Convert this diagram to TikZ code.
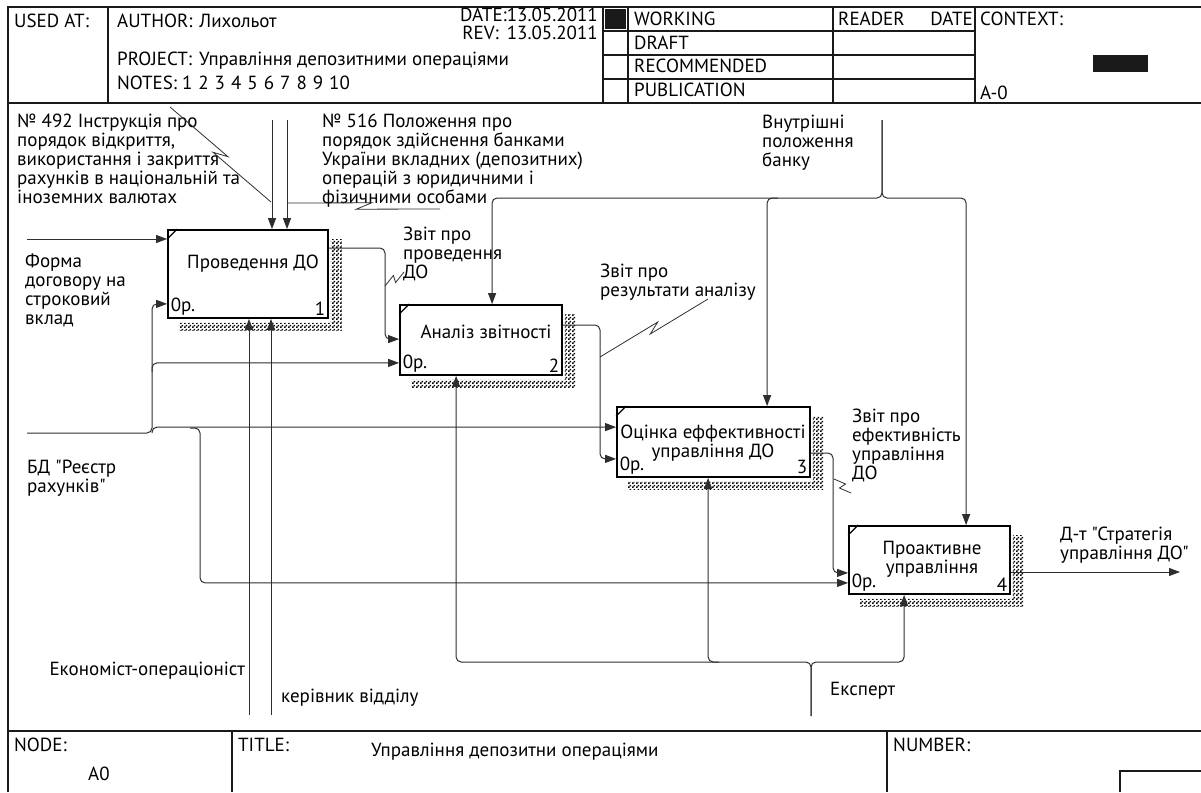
\documentclass[tikz,border=0pt]{standalone}
\usepackage{fontspec}
\setmainfont{PT Sans}[Ligatures=TeXOff]
\usetikzlibrary{positioning,arrows.meta,calc,patterns}
\definecolor{idefink}{HTML}{1A1A1A}
\definecolor{idefline}{HTML}{2E2E2E}

\pgfdeclarepatternformonly{shadowdots}{\pgfqpoint{0pt}{0pt}}{\pgfqpoint{4pt}{4pt}}{\pgfqpoint{4pt}{4pt}}{%
  \pgfpathrectangle{\pgfqpoint{0pt}{0pt}}{\pgfqpoint{2pt}{2pt}}%
  \pgfpathrectangle{\pgfqpoint{2pt}{2pt}}{\pgfqpoint{2pt}{2pt}}%
  \pgfusepath{fill}}

% dotted drop shadow and corner tick of an activity box
\newcommand{\boxshadow}[1]{%
  \fill[pattern=shadowdots, pattern color=black]
    ($(#1.north east)+(2,10)$) -- ($(#1.north east)+(13,10)$) --
    ($(#1.south east)+(13,12)$) -- ($(#1.south west)+(12,12)$) --
    ($(#1.south west)+(12,4)$) -- ($(#1.south east)+(2,4)$) -- cycle;
  \draw[line width=1.2pt] ($(#1.north west)+(0,10)$) -- ($(#1.north west)+(10,0)$);}
% squiggle from an arrow to its label
\newcommand{\zigline}[2]{%
  \draw[squig] (#1) -- ($(#1)!0.55!(#2)!3.5pt!90:(#2)$) -- ($(#1)!0.45!(#2)!3.5pt!-90:(#2)$) -- (#2);}

\begin{document}
\begin{tikzpicture}[x=1pt, y=-1pt,
  font=\fontsize{19}{19}\selectfont,
  act/.style={draw=black, line width=1.8pt, fill=white, inner sep=0pt},
  acttxt/.style={align=center, inner sep=0pt},
  idnum/.style={inner sep=3.5pt},
  lbl/.style={align=left, inner sep=0pt, anchor=north west},
  hdr/.style={inner sep=0pt, anchor=north west},
  arr/.style={-{Triangle[length=11pt,width=8pt]}, line width=1pt, draw=idefline},
  rc/.style={rounded corners=5pt},
  squig/.style={line width=0.8pt, draw=idefline},
  rule/.style={line width=1.1pt, draw=idefink},
  frame/.style={line width=2pt, draw=idefink}
]
\useasboundingbox (0,0) rectangle (1201,792);

% header and footer frame
\draw[frame] (8,792) -- (8,7) -- (1201,7);
\draw[rule] (8,103) -- (1201,103);
\foreach \x in {108,603,628,833,975} \draw[rule] (\x,7) -- (\x,103);
\foreach \y in {31,55,79} \draw[rule] (603,\y) -- (975,\y);
\fill[idefink] (605,9) rectangle (626,29);
\fill[idefink] (1093,55) rectangle (1148,72);
\draw[frame] (8,731) -- (1201,731);
\draw[rule] (232,731) -- (232,792);
\draw[rule] (887,731) -- (887,792);
\draw[rule] (1120,792) -- (1120,771) -- (1201,771);

\node[hdr] (usedat) at (14,14) {USED AT:};
\node[hdr] (author) at (117,14) {AUTHOR:\hspace{7pt}Лихольот};
\node[hdr, anchor=north east] (date) at (598,8) {DATE:13.05.2011};
\node[hdr, anchor=north east] (rev) at (598,26) {REV:\hspace{8pt}13.05.2011};
\node[hdr] (project) at (117,52) {PROJECT:\hspace{7pt}Управління депозитними операціями};
\node[hdr] (notes) at (117,76) {NOTES:\hspace{5pt}1\hspace{6pt}2\hspace{6pt}3\hspace{6pt}4\hspace{6pt}5\hspace{6pt}6\hspace{6pt}7\hspace{6pt}8\hspace{6pt}9\hspace{6pt}10};
\node[hdr] (working) at (634,12) {WORKING};
\node[hdr] (draft) at (634,36) {DRAFT};
\node[hdr] (recommended) at (634,59) {RECOMMENDED};
\node[hdr] (publication) at (634,83) {PUBLICATION};
\node[hdr] (reader) at (838,12) {READER};
\node[hdr, anchor=north east] (rdate) at (973,12) {DATE};
\node[hdr] (context) at (980,12) {CONTEXT:};
\node[hdr] (ctxnum) at (980,86) {A-0};
\node[hdr] (nodecell) at (14,738) {NODE:};
\node[hdr] (nodenum) at (88,767) {A0};
\node[hdr] (titlecell) at (238,738) {TITLE:};
\node[hdr] (titletext) at (371,743) {Управління депозитни операціями};
\node[hdr] (numbercell) at (893,738) {NUMBER:};

% activity boxes
\node[act, minimum width=160pt, minimum height=88pt] (b1) at (248,274) {};
\node[act, minimum width=162pt, minimum height=70pt] (b2) at (481,340) {};
\node[act, minimum width=193pt, minimum height=70pt] (b3) at (713.5,442) {};
\node[act, minimum width=161pt, minimum height=68pt] (b4) at (929.5,560) {};
\foreach \b in {b1,b2,b3,b4} \boxshadow{\b};

\node[acttxt] (b1t) at (253,264) {Проведення ДО};
\node[acttxt] (b2t) at (486,332) {Аналіз звітності};
\node[acttxt] (b3t) at (713,443) {Оцінка еффективності\\управління ДО};
\node[acttxt] (b4t) at (932,559) {Проактивне\\управління};
\foreach \b/\n in {b1/1,b2/2,b3/3,b4/4} {
  \node[idnum, anchor=south west] (\b o) at (\b.south west) {0р.};
  \node[idnum, anchor=south east] (\b n) at (\b.south east) {\n};
}

% inputs
\coordinate (formin) at (27,239);
\draw[arr] (formin) -- (formin -| b1.west);
\coordinate (bdin) at (27,433);
\coordinate (bdfork) at (152,433);
\draw[arr,rc] (bdin) -- (bdfork) |- ($(b1.south west)+(0,-15)$);
\draw[arr,rc] ($(bdfork)+(0,-61)$) |- ($(b2.south west)+(0,-13)$);
\draw[arr,rc] (bdfork) |- ($(b3.north west)+(0,21)$);
\draw[arr,rc] ($(bdfork)+(38,-5)$) -- ($(bdfork)+(48,-5)$) |- ($(b4.south west)+(0,-12)$);

% controls
\coordinate (ctl492) at (272,120);
\coordinate (ctl516) at (287,120);
\draw[arr] (ctl492) -- (ctl492 |- b1.north);
\draw[arr] (ctl516) -- (ctl516 |- b1.north);
\coordinate (bankin) at (882,120);
\coordinate (bankfork) at (882,198);
\draw[arr,rc] (bankin) -- (bankfork) -| ($(b2.north west)+(93,0)$);
\draw[arr,rc] (bankin) -- (bankfork) -| ($(b4.north west)+(118,0)$);
\draw[arr,rc] ($(bankfork)+(-104,0)$) -| ($(b3.north west)+(151,0)$);

% mechanisms
\coordinate (mecon) at (249,715);
\coordinate (mhead) at (271,715);
\draw[arr] (mecon) -- (mecon |- b1.south);
\draw[arr] (mhead) -- (mhead |- b1.south);
\coordinate (expin) at (811,716);
\coordinate (expfork) at (811,662);
\draw[arr,rc] (expin) -- (expfork) -| ($(b2.south west)+(57,0)$);
\draw[arr,rc] (expin) -- (expfork) -| ($(b4.south west)+(56,0)$);
\draw[arr,rc] ($(expfork)+(-92,0)$) -| ($(b3.south west)+(92,0)$);

% outputs
\coordinate (o1) at (385,248);
\coordinate (o2) at (600,325);
\coordinate (o3) at (833,453);
\coordinate (o4) at (1180,572);
\draw[arr,rc] (b1.east |- o1) -- (o1) |- ($(b2.north west)+(0,35)$);
\draw[arr,rc] (b2.east |- o2) -- (o2) |- ($(b3.south west)+(0,-19)$);
\draw[arr,rc] (b3.east |- o3) -- (o3) |- ($(b4.south west)+(0,-22)$);
\draw[arr] (b4.east |- o4) -- (o4);

% arrow labels
\node[lbl] (l492) at (17,114) {№ 492 Інструкція про\\порядок відкриття,\\використання і закриття\\рахунків в національній та\\іноземних валютах};
\node[lbl] (l516) at (322,114) {№ 516 Положення про\\порядок здійснення банками\\України вкладних (депозитних)\\операцій з юридичними і\\фізичними особами};
\node[lbl] (lform) at (25,254) {Форма\\договору на\\строковий\\вклад};
\node[lbl] (lbd) at (27,460) {БД "Реєстр\\рахунків"};
\node[lbl] (lbank) at (762,115) {Внутрішні\\положення\\банку};
\node[lbl] (lo1) at (403,227) {Звіт про\\проведення\\ДО};
\node[lbl] (lo2) at (600,264) {Звіт про\\результати аналізу};
\node[lbl] (lo3) at (852,409) {Звіт про\\ефективність\\управління\\ДО};
\node[lbl] (lo4) at (1060,527) {Д-т "Стратегія\\управління ДО"};
\node[lbl, anchor=north east] (lecon) at (245,662) {Економіст-операціоніст};
\node[lbl] (lhead) at (281,689) {керівник відділу};
\node[lbl] (lexp) at (830,682) {Експерт};

% squiggles
\coordinate (z1a) at (170,107); \coordinate (z1b) at (271,202);
\coordinate (z2a) at (288,203); \coordinate (z2b) at (440,209);
\coordinate (z3a) at (385,286); \coordinate (z3b) at (404,272);
\coordinate (z4a) at (600,357); \coordinate (z4b) at (708,299);
\coordinate (z5a) at (834,479); \coordinate (z5b) at (851,493);
\foreach \z in {z1,z2,z3,z4,z5} \zigline{\z a}{\z b};
\end{tikzpicture}
\end{document}
